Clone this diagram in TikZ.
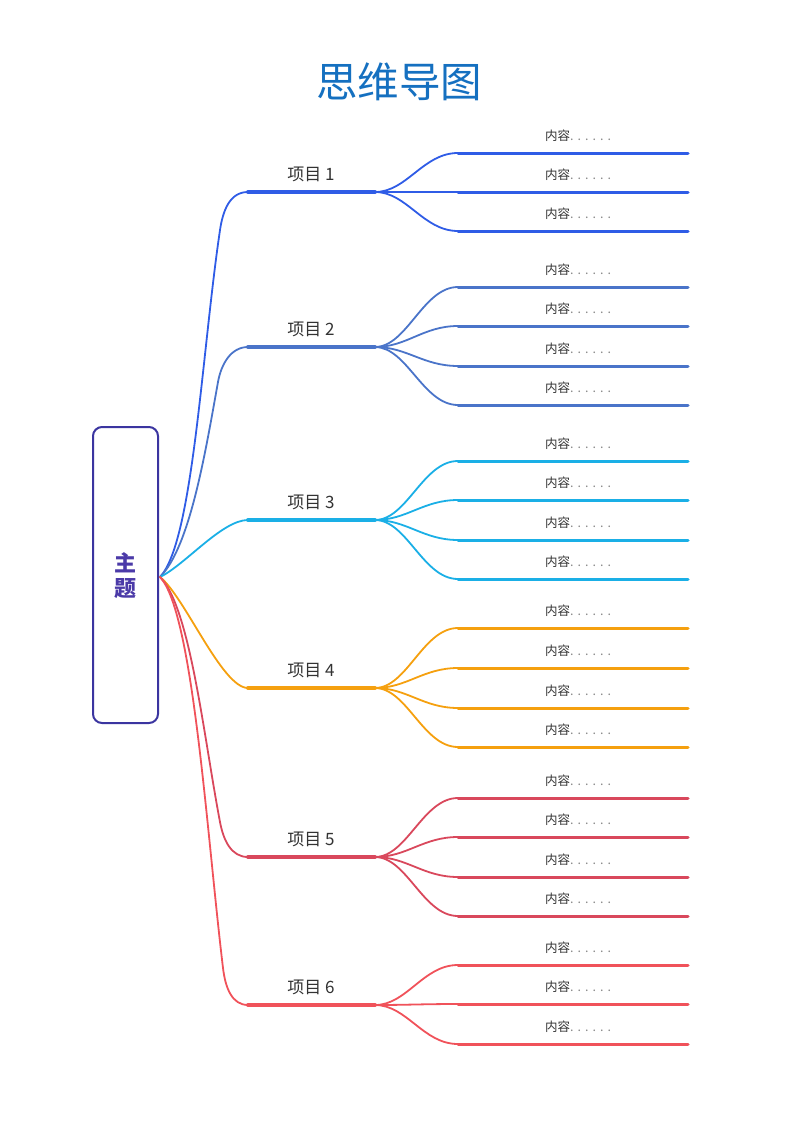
\documentclass[tikz,border=0pt]{standalone}
\usepackage{fontspec}
\setmainfont{Noto Sans CJK SC}
\newfontfamily\cjk{Noto Sans CJK SC}
\definecolor{cA}{HTML}{2F5CE6}
\definecolor{cB}{HTML}{4A74C9}
\definecolor{cC}{HTML}{1AAFE6}
\definecolor{cD}{HTML}{F5A00F}
\definecolor{cE}{HTML}{D9485C}
\definecolor{cF}{HTML}{F0525A}
\definecolor{titleblue}{HTML}{1570C0}
\definecolor{rootc}{HTML}{3B35A0}
\definecolor{roottext}{HTML}{4B3AA8}
\definecolor{txt}{HTML}{333333}
\definecolor{dotc}{HTML}{8A8A8A}
\newcommand{\dotrow}{\textcolor{dotc}{.\hspace{4pt}.\hspace{4pt}.\hspace{4pt}.\hspace{4pt}.\hspace{4pt}.}}
\tikzset{
  rootbox/.style={draw=rootc, line width=2pt, rounded corners=9pt, fill=white, minimum width=65pt, minimum height=296pt, inner sep=0pt},
  link/.style={line width=1.8pt, line cap=round, line join=round},
  branchline/.style={line width=4pt, line cap=round},
  leafline/.style={line width=3pt, line cap=round},
  branchlabel/.style={font=\cjk\fontsize{17}{19}\selectfont, text=txt, inner sep=0pt},
  leaflabel/.style={font=\cjk\fontsize{12.5}{14}\selectfont, text=txt, inner sep=0pt, anchor=west},
}
\begin{document}
\begin{tikzpicture}[x=1pt,y=-1pt]
\useasboundingbox (0,0) rectangle (800,1130);
\node[font=\cjk\fontsize{41.5}{44}\selectfont, text=titleblue] (title) at (399,82) {思维导图};
\node[rootbox] (root) at (125.5,575) {};
\node[font=\cjk\bfseries\fontsize{22}{25}\selectfont, text=roottext, align=center, inner sep=0pt] (roottxt) at (125,576) {主\\题};
\coordinate (r) at (160,577);
% branches: index / y / color
\foreach \i/\y/\c in {1/192/cA,2/347/cB,3/520/cC,4/688/cD,5/857/cE,6/1005/cF}{
  \coordinate (b\i s) at (248,\y);
  \coordinate (b\i e) at (375,\y);
  \draw[branchline,\c] (b\i s) -- (b\i e);
  \node[branchlabel] (b\i lab) at (311,\y-18) {项目 \i};
}
% connectors from the root to the branches
\draw[link,cA] (r) .. controls (193,542) and (201.5,355) .. (220,230)
               .. controls (223,210) and (230,192) .. (b1s);
\draw[link,cB] (r) .. controls (190,547) and (205.4,452) .. (218,382)
               .. controls (221.2,364) and (231,347) .. (b2s);
\draw[link,cC] (r) .. controls (185,565) and (222,520) .. (b3s);
\draw[link,cD] (r) .. controls (185,597) and (222,688) .. (b4s);
\draw[link,cE] (r) .. controls (190,607) and (203.3,734) .. (220,822)
               .. controls (223.4,840) and (231,857) .. (b5s);
\draw[link,cF] (r) .. controls (193,612) and (206.3,829) .. (223,968)
               .. controls (225.4,988) and (232,1005) .. (b6s);
% leaves
\foreach \i/\c/\list in {1/cA/{153,192,231},2/cB/{287,326,366,405},3/cC/{461,500,540,579},4/cD/{628,668,708,747},5/cE/{798,837,877,916},6/cF/{965,1004,1044}}{
  \foreach \ly [count=\j] in \list {
    \coordinate (l\i-\j s) at (458,\ly);
    \coordinate (l\i-\j e) at (688,\ly);
    \draw[link,\c] (b\i e) .. controls +(32,0) and +(-35,0) .. (l\i-\j s);
    \draw[leafline,\c] (l\i-\j s) -- (l\i-\j e);
    \node[leaflabel] (t\i-\j) at (545,\ly-17) {内容\dotrow};
  }
}
\end{tikzpicture}
\end{document}
